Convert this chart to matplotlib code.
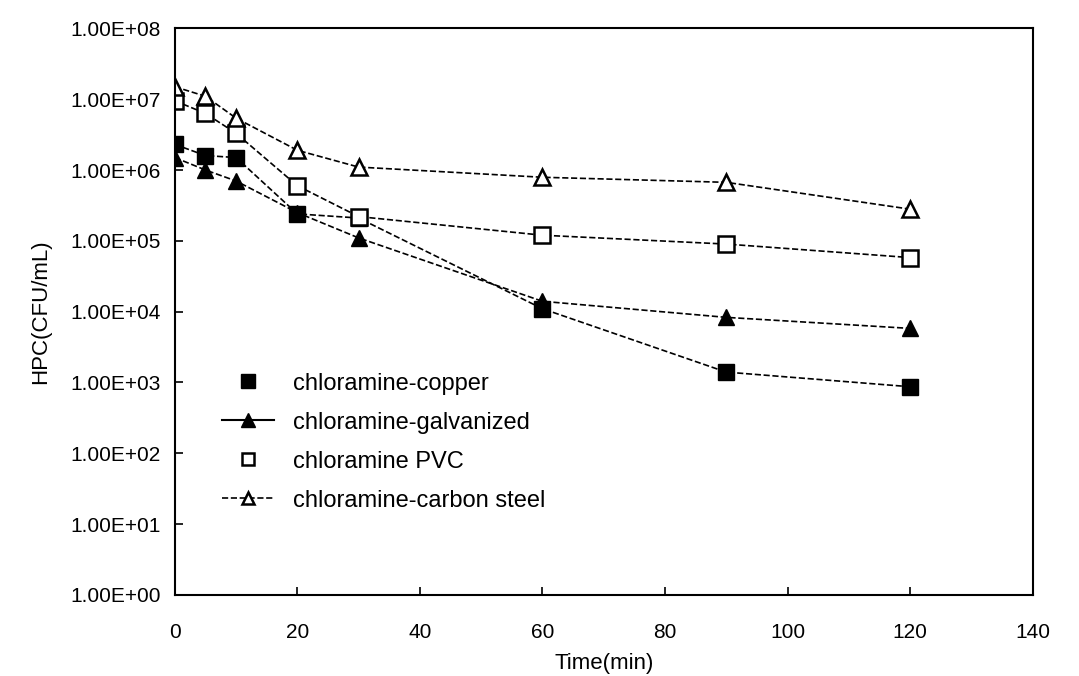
import matplotlib.pyplot as plt
from matplotlib.lines import Line2D
from matplotlib.ticker import FixedLocator, FixedFormatter

# sampling times (min)
time_min = [0, 5, 10, 20, 30, 60, 90, 120]

# heterotrophic plate counts, CFU/mL
copper = [2.3e6, 1.6e6, 1.5e6, 2.4e5, 2.1e5, 1.1e4, 1.4e3, 8.7e2]
galvanized = [1.5e6, 1.0e6, 7.0e5, 2.5e5, 1.1e5, 1.4e4, 8.3e3, 5.8e3]
pvc = [9.5e6, 6.3e6, 3.3e6, 6.0e5, 2.2e5, 1.2e5, 9.0e4, 5.8e4]
carbon_steel = [1.5e7, 1.1e7, 5.4e6, 1.9e6, 1.1e6, 7.9e5, 6.7e5, 2.8e5]

labels = ["chloramine-copper", "chloramine-galvanized", "chloramine PVC",
          "chloramine-carbon steel"]

y_ticks = [1e0, 1e1, 1e2, 1e3, 1e4, 1e5, 1e6, 1e7, 1e8]
y_ticklabels = ["1.00E+00", "1.00E+01", "1.00E+02", "1.00E+03", "1.00E+04",
                "1.00E+05", "1.00E+06", "1.00E+07", "1.00E+08"]
x_ticks = [0, 20, 40, 60, 80, 100, 120, 140]

plt.rcParams['font.family'] = ['Liberation Sans', 'DejaVu Sans']

fig = plt.figure(figsize=(10.79, 6.76), dpi=100)
ax = fig.add_axes([0.162, 0.12, 0.795, 0.838])

ms = 11
ax.plot(time_min, copper, color='black', ls='--', lw=1.2, marker='s', ms=ms,
        mfc='black', mec='black')
ax.plot(time_min, galvanized, color='black', ls='--', lw=1.2, marker='^', ms=ms,
        mfc='black', mec='black')
ax.plot(time_min, pvc, color='black', ls='--', lw=1.2, marker='s', ms=ms,
        mfc='white', mec='black', mew=1.8)
ax.plot(time_min, carbon_steel, color='black', ls='--', lw=1.2, marker='^', ms=ms,
        mfc='white', mec='black', mew=1.8)

ax.set_yscale('log')
ax.set_ylim(1e0, 1e8)
ax.set_xlim(0, 140)
ax.yaxis.set_major_locator(FixedLocator(y_ticks))
ax.yaxis.set_major_formatter(FixedFormatter(y_ticklabels))
ax.yaxis.set_minor_locator(FixedLocator([]))
ax.set_xticks(x_ticks)
ax.tick_params(direction='in', length=6, width=1.2, labelsize=15, pad=10)
ax.tick_params(axis='x', pad=20)
for s in ax.spines.values():
    s.set_linewidth(1.5)

ax.set_xlabel("Time(min)", fontsize=16, labelpad=8)
ax.set_ylabel("HPC(CFU/mL)", fontsize=16, labelpad=14)

handles = [
    Line2D([], [], ls='none', marker='s', ms=10, mfc='black', mec='black'),
    Line2D([], [], color='black', ls='-', lw=1.5, marker='^', ms=10,
           mfc='black', mec='black'),
    Line2D([], [], ls='none', marker='s', ms=9, mfc='white', mec='black', mew=1.8),
    Line2D([], [], color='black', ls='--', lw=1.2, marker='^', ms=9,
           mfc='white', mec='black', mew=1.8),
]
ax.legend(handles, labels, loc='upper left', bbox_to_anchor=(0.03, 0.43),
          frameon=False, fontsize=17, labelspacing=0.72, handlelength=2.2,
          handletextpad=0.8)

fig.savefig("out.png", dpi=100)
